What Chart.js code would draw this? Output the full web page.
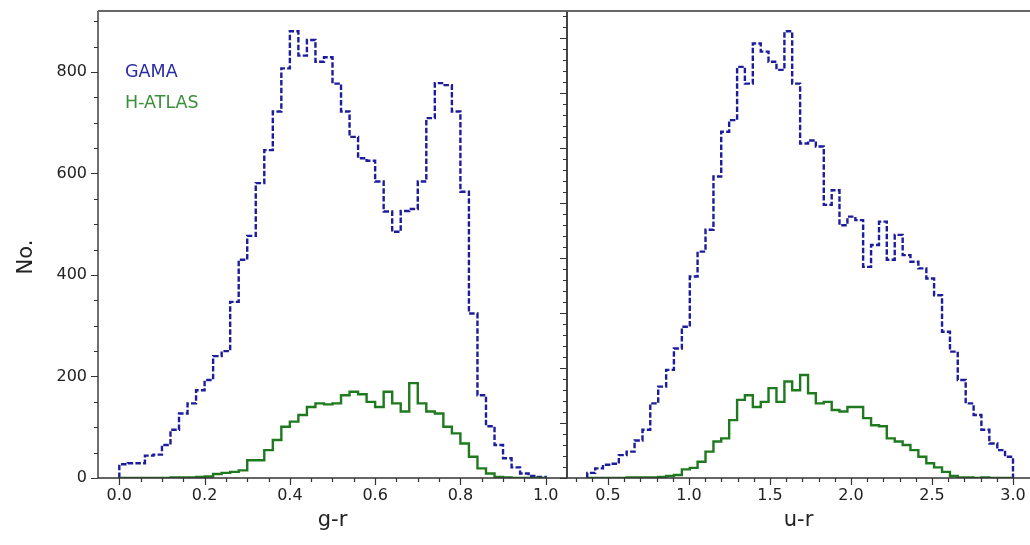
<!DOCTYPE html>
<html><head><meta charset="utf-8">
<script src="https://cdn.jsdelivr.net/npm/chart.js@4/dist/chart.umd.min.js"></script>
<style>
html,body{margin:0;padding:0;background:#fff;overflow:hidden;width:1030px;height:545px;}
#w1{position:absolute;left:0;top:0;width:570px;height:545px;}
#w2{position:absolute;left:540px;top:0;width:490px;height:545px;}
</style></head><body>
<div id="w1"><canvas id="c1"></canvas></div>
<div id="w2"><canvas id="c2"></canvas></div>
<script>
// ---- data ----
const seriesNames = ['GAMA', 'H-ATLAS'];
const grEdges = [0.00,0.02,0.04,0.06,0.08,0.10,0.12,0.14,0.16,0.18,0.20,0.22,0.24,0.26,0.28,0.30,0.32,0.34,0.36,0.38,0.40,0.42,0.44,0.46,0.48,0.50,0.52,0.54,0.56,0.58,0.60,0.62,0.64,0.66,0.68,0.70,0.72,0.74,0.76,0.78,0.80,0.82,0.84,0.86,0.88,0.90,0.92,0.94,0.96,0.98,1.00];
const grGAMA = [27,29,29,44,46,65,95,127,147,173,193,240,250,347,430,477,581,646,722,807,880,832,863,820,829,777,722,672,630,625,584,525,485,526,530,584,709,778,774,722,564,324,163,102,65,39,21,9,4,2];
const grHATLAS = [0,0,0,0,0,0,1,1,1,2,3,8,10,12,15,35,35,55,75,101,111,124,140,147,145,147,163,170,165,150,140,170,147,131,187,147,131,127,101,88,68,42,19,9,2,1,0,0,0,0];
const urEdges = [0.372,0.421,0.469,0.518,0.567,0.615,0.664,0.713,0.761,0.810,0.859,0.907,0.956,1.005,1.053,1.102,1.151,1.199,1.248,1.297,1.345,1.394,1.443,1.491,1.540,1.589,1.637,1.686,1.735,1.783,1.832,1.881,1.929,1.978,2.027,2.075,2.124,2.173,2.221,2.270,2.319,2.367,2.416,2.465,2.513,2.562,2.611,2.659,2.708,2.757,2.805,2.854,2.903,2.951,3.000];
const urGAMA = [10,19,26,28,45,52,74,95,147,180,213,255,298,397,446,489,594,682,705,810,777,856,840,820,804,880,777,659,665,653,538,567,498,515,508,416,459,505,430,479,439,426,413,393,360,288,249,193,147,124,95,68,55,42];
const urHATLAS = [0,0,0,0,0,1,1,1,1,2,4,6,17,20,32,52,72,78,114,154,163,140,150,177,150,190,173,203,167,147,150,134,131,140,140,118,104,102,78,72,65,55,42,29,21,12,4,1,1,0,1,0,0,0];
const grTicks = [0.0,0.2,0.4,0.6,0.8,1.0];
const urTicks = [0.5,1.0,1.5,2.0,2.5,3.0];
const yTicks = [0,200,400,600,800];
const xTitles = ['g-r','u-r'];
const yTitle = 'No.';

// ---- styles ----
const FONT = '"DejaVu Sans", Verdana, sans-serif';
const BLUE = '#1c1c9c', BLUE_TXT = '#2a2aa6';
const GREEN = '#1f7a1f', GREEN_TXT = '#3a8f3a';
const AX = '#333';

function histPoints(edges, vals){
  const pts = [{x: edges[0], y: 0}];
  for (let i = 0; i < vals.length; i++){
    pts.push({x: edges[i], y: vals[i]});
    pts.push({x: edges[i+1], y: vals[i]});
  }
  pts.push({x: edges[edges.length-1], y: 0});
  return pts;
}

function datasets(edges, gama, hatlas){
  return [
    {label: seriesNames[1], data: histPoints(edges, hatlas), borderColor: GREEN, borderWidth: 2.4,
     pointRadius: 0, fill: false, tension: 0},
    {label: seriesNames[0], data: histPoints(edges, gama), borderColor: BLUE, borderWidth: 2.4,
     borderDash: [5.5, 2.2], pointRadius: 0, fill: false, tension: 0}
  ];
}

function deco(opts){
  return {
    id: 'deco',
    afterDraw(chart){
      const ctx = chart.ctx, a = chart.chartArea;
      const xs = chart.scales.x;
      const ys = chart.scales[opts.yScale];
      ctx.save();
      ctx.strokeStyle = AX;
      ctx.lineWidth = 1.2;
      ctx.beginPath();
      for (let v = opts.xMinorStart; v <= xs.max + 1e-9; v += opts.xMinor){
        const px = Math.round(xs.getPixelForValue(v)) + 0.5;
        if (px <= a.left + 1 || px >= a.right - 1) continue;
        const isMaj = opts.xMajor.some(m => Math.abs(m - v) < 1e-6);
        ctx.moveTo(px, a.bottom); ctx.lineTo(px, a.bottom + (isMaj ? 7 : 4));
      }
      for (let v = 0; v <= ys.max + 1e-9; v += opts.yMinor){
        const py = Math.round(ys.getPixelForValue(v)) + 0.5;
        if (py < a.top + 2) continue;
        const isMaj = Math.abs(v / opts.yMajor - Math.round(v / opts.yMajor)) < 1e-6;
        ctx.moveTo(a.left, py); ctx.lineTo(a.left - (isMaj ? 7 : 4), py);
      }
      ctx.stroke();
      ctx.lineWidth = 1.4;
      ctx.beginPath();
      ctx.moveTo(a.left, a.top); ctx.lineTo(a.left, a.bottom);
      ctx.moveTo(a.left, a.bottom); ctx.lineTo(a.right, a.bottom);
      if (opts.rightLine){ ctx.moveTo(a.right, a.top); ctx.lineTo(a.right, a.bottom); }
      ctx.stroke();
      ctx.strokeStyle = '#666';
      ctx.lineWidth = 2;
      ctx.beginPath();
      ctx.moveTo(a.left, a.top); ctx.lineTo(a.right, a.top);
      ctx.stroke();
      ctx.font = '17.5px ' + FONT;
      ctx.textBaseline = 'middle';
      ctx.textAlign = 'left';
      ctx.fillStyle = BLUE_TXT;
      ctx.fillText(seriesNames[0], opts.textX, 72);
      ctx.fillStyle = GREEN_TXT;
      ctx.fillText(seriesNames[1], opts.textX, 103.5);
      if (opts.yTitle){
        ctx.save();
        ctx.translate(27, 257);
        ctx.rotate(-Math.PI / 2);
        ctx.textAlign = 'center';
        ctx.fillStyle = '#222';
        ctx.font = '21px ' + FONT;
        ctx.fillText(opts.yTitle, 0, 0);
        ctx.restore();
      }
      ctx.restore();
    }
  };
}

const tickFont = {family: FONT, size: 16};
const titleFont = {family: FONT, size: 21};
const noPad = s => { s.paddingTop = 0; s.paddingBottom = 0; s.paddingLeft = 0; s.paddingRight = 0; };

new Chart(document.getElementById('c1'), {
  type: 'line',
  data: {datasets: datasets(grEdges, grGAMA, grHATLAS)},
  options: {
    responsive: true, maintainAspectRatio: false, animation: false,
    layout: {padding: {left: 0, right: 3, top: 11, bottom: 0}},
    plugins: {legend: {display: false}, tooltip: {enabled: false}},
    scales: {
      x: {type: 'linear', min: -0.05, max: 1.05,
          grid: {display: false, tickLength: 0}, border: {display: false},
          afterBuildTicks: s => { s.ticks = grTicks.map(v => ({value: v})); },
          ticks: {autoSkip: false, maxRotation: 0, padding: 8, font: tickFont, color: '#222',
                  callback: v => Number(v).toFixed(1)},
          title: {display: true, text: xTitles[0], font: titleFont, color: '#222', padding: {top: 0, bottom: 12}},
          afterFit: s => { noPad(s); s.height = 67; }},
      y: {type: 'linear', min: 0, max: 920,
          grid: {display: false, tickLength: 0}, border: {display: false},
          afterBuildTicks: s => { s.ticks = yTicks.map(v => ({value: v})); },
          ticks: {autoSkip: false, padding: 11, font: tickFont, color: '#222'},
          afterFit: s => { noPad(s); s.width = 98; }}
    }
  },
  plugins: [deco({yScale: 'y', xMinorStart: -0.05, xMinor: 0.05, xMajor: grTicks, yMinor: 50, yMajor: 200,
                  textX: 125, rightLine: true, yTitle: yTitle})]
});

new Chart(document.getElementById('c2'), {
  type: 'line',
  data: {datasets: datasets(urEdges, urGAMA, urHATLAS)},
  options: {
    responsive: true, maintainAspectRatio: false, animation: false,
    layout: {padding: {left: 0, right: 0, top: 11, bottom: 0}},
    plugins: {legend: {display: false}, tooltip: {enabled: false}},
    scales: {
      x: {type: 'linear', min: 0.247, max: 3.105,
          grid: {display: false, tickLength: 0}, border: {display: false},
          afterBuildTicks: s => { s.ticks = urTicks.map(v => ({value: v})); },
          ticks: {autoSkip: false, maxRotation: 0, padding: 8, font: tickFont, color: '#222',
                  callback: v => Number(v).toFixed(1)},
          title: {display: true, text: xTitles[1], font: titleFont, color: '#222', padding: {top: 0, bottom: 12}},
          afterFit: s => { noPad(s); s.height = 67; }},
      y: {type: 'linear', min: 0, max: 920,
          grid: {display: false, tickLength: 0}, border: {display: false},
          ticks: {display: false},
          afterFit: s => { noPad(s); s.width = 27; }},
      yt: {type: 'linear', position: 'left', display: false, min: 0, max: 849}
    }
  },
  plugins: [deco({yScale: 'yt', xMinorStart: 0.3, xMinor: 0.1, xMajor: urTicks, yMinor: 20, yMajor: 100,
                  textX: 579, rightLine: false})]
});
</script>
</body></html>
